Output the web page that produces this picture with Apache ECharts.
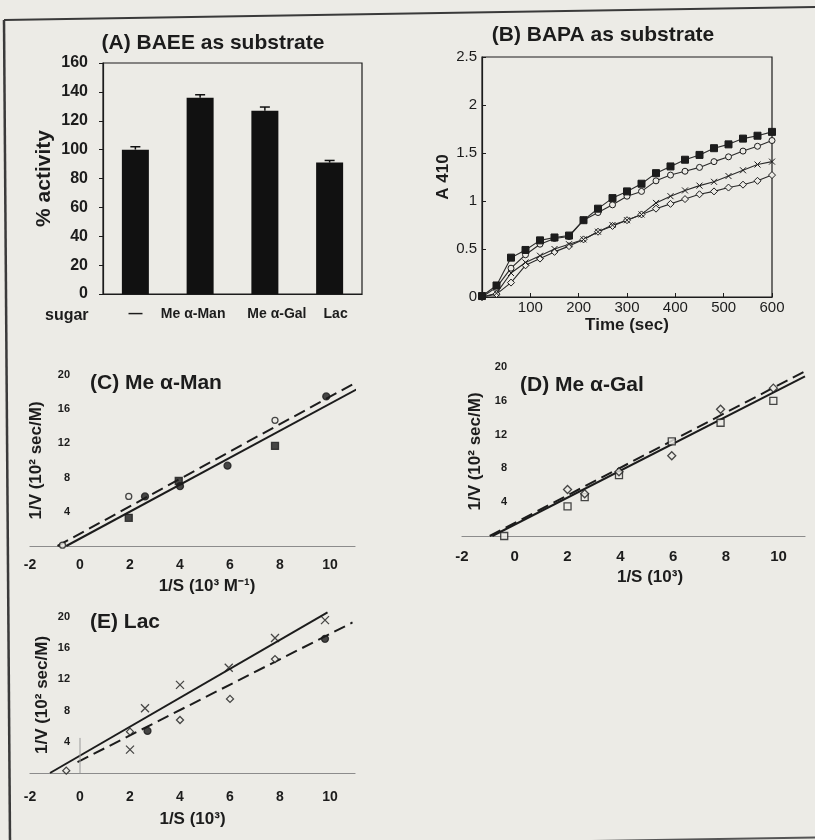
<!DOCTYPE html>
<html>
<head>
<meta charset="utf-8">
<script src="https://cdn.jsdelivr.net/npm/echarts@6/dist/echarts.min.js"></script>
<style>
  html, body { margin: 0; padding: 0; background: #ecebe6; }
  #chart { width: 815px; height: 840px; }
</style>
</head>
<body>
<div id="chart"></div>
<script>
const INK = "#1c1c1c";
const PAPER = "#ecebe6";
const FONT = "'Liberation Sans', Arial, sans-serif";

// (A) BAEE as substrate
const sugars = ["—", "Me α-Man", "Me α-Gal", "Lac"];
const activity = [100, 136, 127, 91];
const activityErr = [2, 2, 2.5, 1.5];
// label nudges (px) so the category names sit as in the print
const sugarLabelShift = [0, -7, 12, 6];

// (B) BAPA as substrate, A410 against time
const timeSec = [0, 30, 60, 90, 120, 150, 180, 210, 240, 270, 300, 330, 360, 390, 420, 450, 480, 510, 540, 570, 600];
const bapaSquares = [0.01, 0.12, 0.41, 0.49, 0.59, 0.62, 0.64, 0.80, 0.92, 1.03, 1.10, 1.18, 1.29, 1.36, 1.43, 1.48, 1.55, 1.59, 1.65, 1.68, 1.72];
const bapaCircles = [0, 0.10, 0.30, 0.44, 0.55, 0.61, 0.63, 0.80, 0.88, 0.96, 1.05, 1.10, 1.21, 1.27, 1.31, 1.35, 1.41, 1.46, 1.52, 1.57, 1.63];
const bapaCrosses = [0, 0.04, 0.25, 0.36, 0.43, 0.50, 0.55, 0.60, 0.68, 0.75, 0.80, 0.86, 0.98, 1.05, 1.11, 1.16, 1.20, 1.26, 1.32, 1.38, 1.41];
const bapaDiamonds = [0, 0.03, 0.15, 0.33, 0.40, 0.47, 0.53, 0.60, 0.68, 0.74, 0.80, 0.86, 0.92, 0.97, 1.02, 1.07, 1.10, 1.14, 1.17, 1.21, 1.27];

// (C) Me α-Man, double reciprocal
const manSquares = [[1.95, 3.3], [3.95, 7.6], [7.8, 11.7]];
const manDots = [[2.6, 5.8], [4.0, 7.0], [5.9, 9.4], [9.85, 17.5]];
const manOpen = [[-0.7, 0.1], [1.95, 5.8], [7.8, 14.7]];
const manFit = [[-0.55, 0], [11.05, 18.3]];
const manFitDash = [[-0.9, 0], [10.9, 18.9]];

// (D) Me α-Gal
const galSquares = [[-0.4, 0], [2.0, 3.5], [2.65, 4.6], [3.95, 7.2], [5.95, 11.2], [7.8, 13.4], [9.8, 16.0]];
const galDiamonds = [[2.0, 5.5], [2.65, 5.0], [3.95, 7.6], [5.95, 9.5], [7.8, 15.0], [9.8, 17.5]];
const galFit = [[-0.85, 0], [11.0, 18.9]];
const galFitDash = [[-0.95, 0], [11.0, 19.5]];

// (E) Lac
const lacCrosses = [[2.0, 3.0], [2.6, 8.3], [4.0, 11.3], [5.95, 13.5], [7.8, 17.3], [9.8, 19.6]];
const lacDiamonds = [[-0.55, 0.3], [2.0, 5.3], [4.0, 6.8], [6.0, 9.5], [7.8, 14.6]];
const lacDots = [[2.7, 5.4], [9.8, 17.2]];
const lacFit = [[-1.2, 0], [9.9, 20.6]];
const lacFitDash = [[-0.1, 1.4], [10.9, 19.3]];
const lacZeroMark = [[0, 0], [0, 4.5]];

const CROSS = "path://M0,0L10,10M10,0L0,10";

const chart = echarts.init(document.getElementById("chart"));

function txt(size, weight) {
  return { color: INK, fontFamily: FONT, fontSize: size, fontWeight: weight || "bold" };
}

function recipXAxis(gridIndex, labelSize, margin, name, nameGap, namePad) {
  return {
    gridIndex, type: "value", min: -2, max: 11, interval: 2,
    axisLine: { lineStyle: { color: "#8c8c8c", width: 1.2 } },
    axisTick: { show: false },
    splitLine: { show: false },
    axisLabel: { ...txt(labelSize), margin, formatter: (v) => (v % 2 === 0 ? String(v) : "") },
    name, nameLocation: "middle", nameGap,
    nameTextStyle: { ...txt(17), padding: namePad },
  };
}

function recipYAxis(gridIndex, offset, nameGap) {
  return {
    gridIndex, type: "value", min: 0, max: 20, interval: 4, offset,
    axisLine: { show: false },
    axisTick: { show: false },
    splitLine: { show: false },
    axisLabel: { ...txt(11), margin: 3, formatter: (v) => (v === 0 ? "" : String(v)) },
    name: "1/V (10² sec/M)", nameLocation: "middle", nameGap,
    nameTextStyle: txt(17),
  };
}

function points(xi, data, symbol, filled, size) {
  return {
    type: "scatter", xAxisIndex: xi, yAxisIndex: xi, data, symbol,
    symbolSize: size || 7, z: 5,
    itemStyle: {
      color: symbol === CROSS ? "none" : filled ? INK : PAPER,
      borderColor: INK, borderWidth: 1.3,
    },
  };
}

function fit(xi, data, dashed) {
  return {
    type: "line", xAxisIndex: xi, yAxisIndex: xi, data, symbol: "none", clip: false,
    lineStyle: { color: INK, width: 2, type: dashed ? [12, 6] : "solid" },
  };
}

function kinetic(values, symbol, filled, size) {
  return {
    type: "line", xAxisIndex: 1, yAxisIndex: 1,
    data: timeSec.map((t, i) => [t, values[i]]),
    symbol, symbolSize: size, showSymbol: true,
    lineStyle: { color: "#2a2a2a", width: 1.1 },
    itemStyle: {
      color: symbol === CROSS ? "none" : filled ? INK : PAPER,
      borderColor: INK, borderWidth: 1,
    },
  };
}

const sugarAxisData = sugars.map((name, i) => {
  const s = sugarLabelShift[i];
  return {
    value: name,
    textStyle: { padding: s >= 0 ? [0, 0, 0, 2 * s] : [0, -2 * s, 0, 0] },
  };
});

const option = {
  backgroundColor: PAPER,
  animation: false,
  grid: [
    { left: 103, top: 63, width: 259, height: 231, show: true, borderColor: INK, borderWidth: 1.2 },
    { left: 482, top: 57, width: 290, height: 240, show: true, borderColor: INK, borderWidth: 1.2 },
    { left: 30, top: 375, width: 325, height: 171 },
    { left: 462, top: 367, width: 343, height: 169 },
    { left: 30, top: 617, width: 325, height: 156 },
  ],
  xAxis: [
    {
      gridIndex: 0, type: "category", data: sugarAxisData,
      axisLine: { lineStyle: { color: INK, width: 1.2 } },
      axisTick: { show: false },
      axisLabel: { ...txt(14), margin: 13, interval: 0 },
    },
    {
      gridIndex: 1, type: "value", min: 0, max: 600, interval: 100,
      axisLine: { lineStyle: { color: INK, width: 1.2 } },
      axisTick: { inside: true, length: 4, lineStyle: { color: INK } },
      splitLine: { show: false },
      axisLabel: { ...txt(15, "normal"), margin: 3, formatter: (v) => (v === 0 ? "" : String(v)) },
      name: "Time (sec)", nameLocation: "middle", nameGap: 20,
      nameTextStyle: txt(17),
    },
    recipXAxis(2, 14, 12, "1/S (10³ M⁻¹)", 32, [0, 0, 0, 29]),
    recipXAxis(3, 15, 13, "1/S (10³)", 33, [0, 0, 0, 33]),
    recipXAxis(4, 14, 17, "1/S (10³)", 38, [0, 0, 0, 0]),
  ],
  yAxis: [
    {
      gridIndex: 0, type: "value", min: 0, max: 160, interval: 20,
      axisLine: { show: true, lineStyle: { color: INK, width: 1.2 } },
      axisTick: { show: true, length: 4, lineStyle: { color: INK } },
      splitLine: { show: false },
      axisLabel: { ...txt(16), margin: 15 },
      name: "% activity", nameLocation: "middle", nameGap: 48,
      nameTextStyle: txt(21),
    },
    {
      gridIndex: 1, type: "value", min: 0, max: 2.5, interval: 0.5,
      axisLine: { show: true, lineStyle: { color: INK, width: 1.2 } },
      axisTick: { inside: true, length: 4, lineStyle: { color: INK } },
      splitLine: { show: false },
      axisLabel: { ...txt(15, "normal"), margin: 5 },
      name: "A 410", nameLocation: "middle", nameGap: 25,
      nameTextStyle: txt(17),
    },
    recipYAxis(2, -43, 28),
    recipYAxis(3, -48, 26),
    recipYAxis(4, -43, 22),
  ],
  graphic: [
    { type: "polyline", shape: { points: [[4, 20], [815, 7]] }, style: { stroke: "#3a3a3a", lineWidth: 2, fill: null } },
    { type: "polyline", shape: { points: [[4, 20], [10, 840]] }, style: { stroke: "#3a3a3a", lineWidth: 2.5, fill: null } },
    { type: "polyline", shape: { points: [[560, 841.5], [815, 837.5]] }, style: { stroke: "#555", lineWidth: 2, fill: null } },
    { type: "text", x: 213, y: 43, style: { text: "(A) BAEE as substrate", align: "center", verticalAlign: "middle", fill: INK, font: "bold 21px " + FONT } },
    { type: "text", x: 603, y: 35, style: { text: "(B) BAPA as substrate", align: "center", verticalAlign: "middle", fill: INK, font: "bold 21px " + FONT } },
    { type: "text", x: 90, y: 383, style: { text: "(C) Me α-Man", align: "left", verticalAlign: "middle", fill: INK, font: "bold 21px " + FONT } },
    { type: "text", x: 520, y: 385, style: { text: "(D) Me α-Gal", align: "left", verticalAlign: "middle", fill: INK, font: "bold 21px " + FONT } },
    { type: "text", x: 90, y: 622, style: { text: "(E) Lac", align: "left", verticalAlign: "middle", fill: INK, font: "bold 21px " + FONT } },
    { type: "text", x: 45, y: 316, style: { text: "sugar", align: "left", verticalAlign: "middle", fill: INK, font: "bold 16px " + FONT } },
  ],
  series: [
    {
      type: "bar", xAxisIndex: 0, yAxisIndex: 0, data: activity,
      barWidth: 27, itemStyle: { color: "#111" },
    },
    {
      type: "custom", xAxisIndex: 0, yAxisIndex: 0, z: 5,
      data: activity.map((v, i) => [i, v, activityErr[i]]),
      renderItem: (params, api) => {
        const top = api.coord([api.value(0), api.value(1) + api.value(2)]);
        const base = api.coord([api.value(0), api.value(1)]);
        const hw = 5;
        const style = { stroke: "#111", lineWidth: 1.5 };
        return {
          type: "group",
          children: [
            { type: "line", shape: { x1: top[0], y1: base[1], x2: top[0], y2: top[1] }, style },
            { type: "line", shape: { x1: top[0] - hw, y1: top[1], x2: top[0] + hw, y2: top[1] }, style },
          ],
        };
      },
    },
    kinetic(bapaDiamonds, "diamond", false, 7),
    kinetic(bapaCrosses, CROSS, false, 6),
    kinetic(bapaCircles, "circle", false, 6),
    kinetic(bapaSquares, "rect", true, 7),

    fit(2, manFit, false),
    fit(2, manFitDash, true),
    points(2, manSquares, "rect", true, 7),
    points(2, manDots, "circle", true, 7),
    points(2, manOpen, "circle", false, 6),

    fit(3, galFit, false),
    fit(3, galFitDash, true),
    points(3, galSquares, "rect", false, 7),
    points(3, galDiamonds, "diamond", false, 8),

    fit(4, lacFit, false),
    fit(4, lacFitDash, true),
    {
      type: "line", xAxisIndex: 4, yAxisIndex: 4, data: lacZeroMark, symbol: "none",
      lineStyle: { color: "#9a9a9a", width: 1 },
    },
    points(4, lacCrosses, CROSS, false, 8),
    points(4, lacDiamonds, "diamond", false, 7),
    points(4, lacDots, "circle", true, 7),
  ],
};

chart.setOption(option);
</script>
</body>
</html>
